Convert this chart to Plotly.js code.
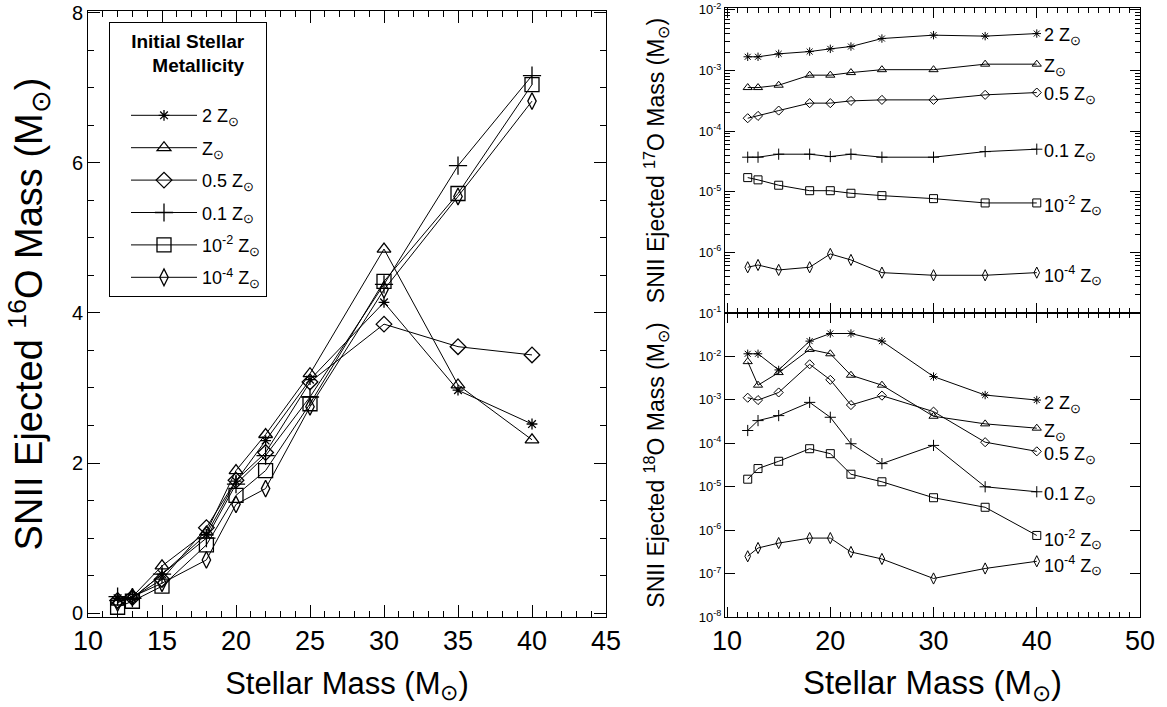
<!DOCTYPE html>
<html>
<head>
<meta charset="utf-8">
<script src="https://cdn.plot.ly/plotly-3.0.1.min.js"></script>
<style>html,body{margin:0;padding:0;background:#fff;}#chart{width:1167px;height:707px;}</style>
</head>
<body>
<div id="chart"></div>
<script>
// ---------- data ----------
const masses = [12, 13, 15, 18, 20, 22, 25, 30, 35, 40];
const metLabels = ['2 Z<sub>⊙</sub>', 'Z<sub>⊙</sub>', '0.5 Z<sub>⊙</sub>', '0.1 Z<sub>⊙</sub>',
                   '10<sup>-2</sup> Z<sub>⊙</sub>', '10<sup>-4</sup> Z<sub>⊙</sub>'];

// 16O ejected mass (Msun)
const o16_2Z  = [0.20, 0.20, 0.52, 1.05, 1.76, 2.30, 3.11, 4.14, 2.97, 2.52];
const o16_Z   = [0.15, 0.22, 0.63, 1.08, 1.90, 2.38, 3.19, 4.85, 3.04, 2.31];
const o16_05Z = [0.17, 0.21, 0.45, 1.14, 1.77, 2.14, 3.08, 3.85, 3.55, 3.44];
const o16_01Z = [0.22, 0.20, 0.52, 1.00, 1.72, 2.10, 2.88, 4.38, 5.96, 7.16];
const o16_m2  = [0.08, 0.16, 0.36, 0.91, 1.57, 1.90, 2.79, 4.42, 5.59, 7.04];
const o16_m4  = [0.14, 0.22, 0.40, 0.71, 1.45, 1.66, 2.75, 4.31, 5.55, 6.82];

// 17O ejected mass (Msun)
const o17_2Z  = [1.68e-3, 1.68e-3, 1.88e-3, 2.05e-3, 2.27e-3, 2.48e-3, 3.36e-3, 3.82e-3, 3.68e-3, 4.06e-3];
const o17_Z   = [5.22e-4, 5.22e-4, 5.71e-4, 8.36e-4, 8.36e-4, 9.22e-4, 1.03e-3, 1.03e-3, 1.27e-3, 1.27e-3];
const o17_05Z = [1.63e-4, 1.78e-4, 2.18e-4, 2.89e-4, 2.89e-4, 3.15e-4, 3.27e-4, 3.27e-4, 3.96e-4, 4.32e-4];
const o17_01Z = [3.71e-5, 3.71e-5, 4.16e-5, 4.16e-5, 3.80e-5, 4.16e-5, 3.71e-5, 3.71e-5, 4.59e-5, 5.03e-5];
const o17_m2  = [1.71e-5, 1.57e-5, 1.28e-5, 1.04e-5, 1.04e-5, 9.44e-6, 8.62e-6, 7.69e-6, 6.53e-6, 6.53e-6];
const o17_m4  = [5.68e-7, 6.19e-7, 5.13e-7, 5.68e-7, 9.42e-7, 7.50e-7, 4.63e-7, 4.19e-7, 4.19e-7, 4.63e-7];

// 18O ejected mass (Msun)
const o18_2Z  = [1.15e-2, 1.15e-2, 4.89e-3, 2.25e-2, 3.37e-2, 3.37e-2, 2.25e-2, 3.44e-3, 1.29e-3, 9.90e-4];
const o18_Z   = [7.59e-3, 2.18e-3, 4.25e-3, 1.45e-2, 1.15e-2, 3.69e-3, 2.18e-3, 4.19e-4, 2.80e-4, 2.23e-4];
const o18_05Z = [1.12e-3, 9.89e-4, 1.48e-3, 6.59e-3, 2.89e-3, 7.60e-4, 1.25e-3, 5.36e-4, 1.06e-4, 6.52e-5];
const o18_01Z = [1.97e-4, 3.33e-4, 4.34e-4, 8.75e-4, 3.97e-4, 9.75e-5, 3.40e-5, 8.93e-5, 9.96e-6, 7.65e-6];
const o18_m2  = [1.49e-5, 2.62e-5, 3.85e-5, 7.50e-5, 5.77e-5, 1.94e-5, 1.30e-5, 5.58e-6, 3.36e-6, 7.55e-7];
const o18_m4  = [2.50e-7, 3.88e-7, 5.04e-7, 6.56e-7, 6.56e-7, 3.14e-7, 2.17e-7, 7.71e-8, 1.31e-7, 1.92e-7];

// tick labels
const leftXTicks = [10, 15, 20, 25, 30, 35, 40, 45];
const leftYTicks = [0, 2, 4, 6, 8];
const rightXTicks = [10, 20, 30, 40, 50];
const o17TickVals = [1e-2, 1e-3, 1e-4, 1e-5, 1e-6];
const o17TickText = ['10<sup>-2</sup>', '10<sup>-3</sup>', '10<sup>-4</sup>', '10<sup>-5</sup>', '10<sup>-6</sup>'];
const o18TickVals = [1e-1, 1e-2, 1e-3, 1e-4, 1e-5, 1e-6, 1e-7, 1e-8];
const o18TickText = ['10<sup>-1</sup>', '10<sup>-2</sup>', '10<sup>-3</sup>', '10<sup>-4</sup>', '10<sup>-5</sup>', '10<sup>-6</sup>', '10<sup>-7</sup>', '10<sup>-8</sup>'];

// ---------- styles ----------
const FONT = 'Liberation Sans, Arial, Helvetica, sans-serif';
const symbols = ['asterisk-open', 'triangle-up-open', 'diamond-open', 'cross-thin-open', 'square-open', 'diamond-tall-open'];
const bigSizes = [9, 12, 12, 13, 14, 12];
const smallSizes = [7, 8, 7, 8, 8, 8];

const o16 = [o16_2Z, o16_Z, o16_05Z, o16_01Z, o16_m2, o16_m4];
const o17 = [o17_2Z, o17_Z, o17_05Z, o17_01Z, o17_m2, o17_m4];
const o18 = [o18_2Z, o18_Z, o18_05Z, o18_01Z, o18_m2, o18_m4];

const traces = [];
o16.forEach((ys, i) => traces.push({
  x: masses, y: ys, xaxis: 'x', yaxis: 'y', type: 'scatter', mode: 'lines+markers',
  name: metLabels[i], legendgroup: 'g' + i, showlegend: true,
  line: {color: '#000', width: 1},
  marker: {symbol: symbols[i], size: bigSizes[i], color: '#000', line: {color: '#000', width: 1.3}}
}));
o17.forEach((ys, i) => traces.push({
  x: masses, y: ys, xaxis: 'x3', yaxis: 'y3', type: 'scatter', mode: 'lines+markers',
  showlegend: false,
  line: {color: '#000', width: 1},
  marker: {symbol: symbols[i], size: smallSizes[i], color: '#000', line: {color: '#000', width: 1}}
}));
o18.forEach((ys, i) => traces.push({
  x: masses, y: ys, xaxis: 'x2', yaxis: 'y2', type: 'scatter', mode: 'lines+markers',
  showlegend: false,
  line: {color: '#000', width: 1},
  marker: {symbol: symbols[i], size: smallSizes[i], color: '#000', line: {color: '#000', width: 1}}
}));

// series labels next to last points on the right panels
const annotations = [];
const last = masses.length - 1;
o17.forEach((ys, i) => annotations.push({
  x: masses[last], y: Math.log10(ys[last]), xref: 'x3', yref: 'y3',
  text: metLabels[i], showarrow: false, xanchor: 'left', xshift: 5, yshift: -3,
  font: {family: FONT, size: 18, color: '#000'}
}));
o18.forEach((ys, i) => annotations.push({
  x: masses[last], y: Math.log10(ys[last]), xref: 'x2', yref: 'y2',
  text: metLabels[i], showarrow: false, xanchor: 'left', xshift: 5, yshift: -4,
  font: {family: FONT, size: 18, color: '#000'}
}));

const W = 1167, H = 707;
const leftDom = [88 / W, 606 / W];
const rightDom = [725 / W, 1140 / W];
const yBot = 1 - 617 / H, yMid = 1 - 313 / H, yTop = 1 - 8 / H, yTopL = 1 - 11 / H;

const axCommon = {
  showline: true, linecolor: '#000', linewidth: 1, mirror: 'ticks',
  ticks: 'inside', tickcolor: '#000', tickwidth: 1, showgrid: false, zeroline: false,
  ticklabeloverflow: 'allow',
  tickfont: {family: FONT, size: 22, color: '#000'}
};

const layout = {
  width: W, height: H,
  margin: {l: 0, r: 0, t: 0, b: 0},
  paper_bgcolor: '#fff', plot_bgcolor: '#fff',
  font: {family: FONT, color: '#000'},
  showlegend: true,
  legend: {
    x: 109 / W, y: 1 - 22 / H, xanchor: 'left', yanchor: 'top',
    bgcolor: '#fff', bordercolor: '#000', borderwidth: 1,
    font: {family: FONT, size: 18, color: '#000'},
    title: {text: '<b>Initial Stellar<br>&nbsp;&nbsp;&nbsp;&nbsp;Metallicity<br>&nbsp;</b>', side: 'top center', font: {family: FONT, size: 19, color: '#000'}},
    itemwidth: 66, indentation: 16, tracegroupgap: 6, itemclick: false
  },
  xaxis: Object.assign({}, axCommon, {
    domain: leftDom, anchor: 'y', range: [10, 45], tickmode: 'array', tickvals: leftXTicks,
    ticklen: 12, minor: {dtick: 1, tick0: 10, ticklen: 6, ticks: 'inside', tickcolor: '#000'},
    tickfont: {family: FONT, size: 27, color: '#000'},
    title: {text: 'Stellar Mass (M<sub>⊙</sub>)', font: {family: FONT, size: 31, color: '#000'}, standoff: 16}
  }),
  yaxis: Object.assign({}, axCommon, {
    domain: [yBot, yTopL], anchor: 'x', range: [-0.05, 8.02], tickmode: 'array', tickvals: leftYTicks,
    ticklen: 12, minor: {dtick: 0.5, tick0: 0, ticklen: 6, ticks: 'inside', tickcolor: '#000'},
    tickfont: {family: FONT, size: 20, color: '#000'},
    title: {text: 'SNII Ejected <sup>16</sup>O Mass (M<sub>⊙</sub>)', font: {family: FONT, size: 38, color: '#000'}, standoff: 17}
  }),
  xaxis2: Object.assign({}, axCommon, {
    domain: rightDom, anchor: 'y2', range: [9.8, 50], tickmode: 'array', tickvals: rightXTicks,
    ticklen: 10, minor: {dtick: 1, tick0: 10, ticklen: 5, ticks: 'inside', tickcolor: '#000'},
    tickfont: {family: FONT, size: 27, color: '#000'},
    title: {text: 'Stellar Mass (M<sub>⊙</sub>)', font: {family: FONT, size: 33, color: '#000'}, standoff: 15}
  }),
  yaxis2: Object.assign({}, axCommon, {
    domain: [yBot, yMid], anchor: 'x2', type: 'log', range: [-8, -1],
    tickmode: 'array', tickvals: o18TickVals, ticktext: o18TickText, ticklen: 10,
    tickfont: {family: FONT, size: 13, color: '#000'},
    title: {text: 'SNII Ejected <sup>18</sup>O Mass (M<sub>⊙</sub>)', font: {family: FONT, size: 23, color: '#000'}, standoff: 27}
  }),
  xaxis3: Object.assign({}, axCommon, {
    domain: rightDom, anchor: 'y3', range: [9.8, 50], tickmode: 'array', tickvals: rightXTicks,
    showticklabels: false,
    ticklen: 10, minor: {dtick: 1, tick0: 10, ticklen: 5, ticks: 'inside', tickcolor: '#000'}
  }),
  yaxis3: Object.assign({}, axCommon, {
    domain: [yMid, yTop], anchor: 'x3', type: 'log', range: [-7, -1.97],
    tickmode: 'array', tickvals: o17TickVals, ticktext: o17TickText, ticklen: 10,
    minor: {dtick: 'D1', ticklen: 5, ticks: 'inside', tickcolor: '#000'},
    tickfont: {family: FONT, size: 13, color: '#000'},
    title: {text: 'SNII Ejected <sup>17</sup>O Mass (M<sub>⊙</sub>)', font: {family: FONT, size: 23, color: '#000'}, standoff: 27}
  }),
  annotations: annotations
};

Plotly.newPlot('chart', traces, layout, {staticPlot: true, displayModeBar: false});
</script>
</body>
</html>
